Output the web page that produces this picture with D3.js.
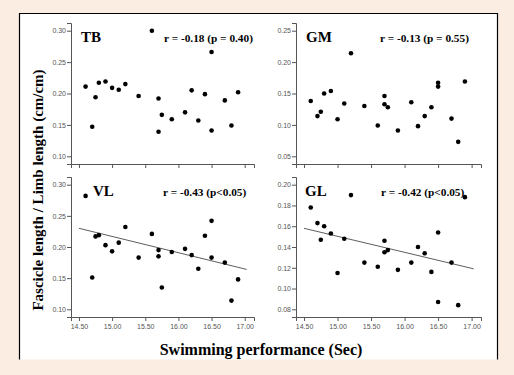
<!DOCTYPE html>
<html>
<head>
<meta charset="utf-8">
<script src="https://cdn.jsdelivr.net/npm/d3@7"></script>
<style>
  html, body { margin: 0; padding: 0; background: #fcede3; }
  svg { display: block; }
  .tick text { font-family: "Liberation Sans", Arial, sans-serif; font-size: 7px; fill: #555; }
  .ttl { font-family: "Liberation Serif", "Times New Roman", serif; font-weight: bold; fill: #000; }
</style>
</head>
<body>
<div id="chart"></div>
<script>
// swimming time of each subject (sec), shared by all four panels
const SWIM = [14.6, 14.7, 14.75, 14.8, 14.9, 15.0, 15.1, 15.2, 15.4, 15.6, 15.7, 15.7,
              15.75, 15.9, 16.1, 16.2, 16.3, 16.4, 16.5, 16.5, 16.7, 16.8, 16.9];

// fascicle length / limb length, one value per swimmer, same order as SWIM
const TB = [0.211, 0.147, 0.194, 0.217, 0.219, 0.209, 0.206, 0.215, 0.196, 0.300, 0.192, 0.139,
            0.166, 0.159, 0.170, 0.205, 0.157, 0.199, 0.266, 0.141, 0.189, 0.149, 0.202];
const GM = [0.138, 0.114, 0.121, 0.150, 0.154, 0.109, 0.134, 0.214, 0.130, 0.099, 0.146, 0.133,
            0.128, 0.091, 0.136, 0.098, 0.114, 0.128, 0.167, 0.161, 0.110, 0.073, 0.169];
const VL = [0.282, 0.151, 0.217, 0.219, 0.203, 0.193, 0.207, 0.232, 0.183, 0.221, 0.195, 0.185,
            0.135, 0.192, 0.197, 0.187, 0.165, 0.218, 0.242, 0.183, 0.175, 0.114, 0.148];
const GL = [0.178, 0.163, 0.147, 0.160, 0.153, 0.115, 0.148, 0.190, 0.125, 0.121, 0.146, 0.135,
            0.137, 0.118, 0.125, 0.140, 0.134, 0.116, 0.154, 0.087, 0.125, 0.084, 0.188];

const PANEL_NAMES = ["TB", "GM", "VL", "GL"];
const PANEL_STATS = ["r = -0.18 (p = 0.40)", "r = -0.13 (p = 0.55)",
                     "r = -0.43 (p<0.05)", "r = -0.42 (p<0.05)"];
const X_TICKS = [14.5, 15.0, 15.5, 16.0, 16.5, 17.0];
const Y_TICKS = [
  [0.10, 0.15, 0.20, 0.25, 0.30],
  [0.05, 0.10, 0.15, 0.20, 0.25],
  [0.10, 0.15, 0.20, 0.25, 0.30],
  [0.08, 0.10, 0.12, 0.14, 0.16, 0.18, 0.20]
];
// fit lines as drawn in the figure: [x start, x end] and [y start, y end]; null = none
const FIT_X = [14.5, 17.03];
const FIT_Y = [null, null, [0.230, 0.164], [0.158, 0.119]];
const SERIES = [TB, GM, VL, GL];

const W = 514, H = 375;
const svg = d3.select("#chart").append("svg").attr("width", W).attr("height", H);

// white figure box: border on top, left and right only
svg.append("rect").attr("x", 19.5).attr("y", 13.5).attr("width", 478).attr("height", 346)
  .attr("fill", "#fff");
svg.append("path").attr("d", "M19.5,359.5V13.5H497.5V359.5")
  .attr("fill", "none").attr("stroke", "#000").attr("stroke-width", 1.2);

// panel boxes (axis area) in pixels
const COLS = [[71, 254], [296, 481]];
const ROWS = [[23, 164], [177, 317]];
// where the panel name and the r/p text start, offset from the panel's left edge
const NAME_DX = [10, 10, 22, 9];
const STAT_DX = [93, 84, 92, 85];

SERIES.forEach((ys, i) => {
  const [x0, x1] = COLS[i % 2];
  const [y0, y1] = ROWS[Math.floor(i / 2)];
  const ticks = Y_TICKS[i];
  const lo = ticks[0], hi = ticks[ticks.length - 1];
  const pad = 7.7 / (y1 - y0 - 15.4) * (hi - lo);

  const x = d3.scaleLinear().domain([14.38, 17.14]).range([x0, x1]);
  const y = d3.scaleLinear().domain([lo - pad, hi + pad]).range([y1, y0]);
  const g = svg.append("g");

  const yAxis = g.append("g").attr("transform", `translate(${x0},0)`)
    .call(d3.axisLeft(y).tickValues(ticks).tickSize(4).tickPadding(1)
      .tickFormat(d3.format(".2f")));
  const xAxis = g.append("g").attr("transform", `translate(0,${y1})`)
    .call(d3.axisBottom(x).tickValues(X_TICKS).tickSize(4).tickPadding(3)
      .tickFormat(i >= 2 ? d3.format(".2f") : ""));
  [yAxis, xAxis].forEach(a => {
    a.select(".domain").attr("stroke", "#555");
    a.selectAll(".tick line").attr("stroke", "#555");
  });

  if (FIT_Y[i]) {
    g.append("line")
      .attr("x1", x(FIT_X[0])).attr("y1", y(FIT_Y[i][0]))
      .attr("x2", x(FIT_X[1])).attr("y2", y(FIT_Y[i][1]))
      .attr("stroke", "#333").attr("stroke-width", 0.8);
  }

  g.append("g").selectAll("circle").data(ys).join("circle")
    .attr("cx", (d, k) => x(SWIM[k])).attr("cy", d => y(d))
    .attr("r", 2.3).attr("fill", "#000");

  g.append("text").attr("class", "ttl").attr("x", x0 + NAME_DX[i]).attr("y", y0 + 19)
    .attr("font-size", 15).text(PANEL_NAMES[i]);
  g.append("text").attr("class", "ttl").attr("x", x0 + STAT_DX[i]).attr("y", y0 + 19)
    .attr("font-size", 11.3).text(PANEL_STATS[i]);
});

svg.append("text").attr("class", "ttl")
  .attr("transform", "translate(43,190) rotate(-90)")
  .attr("text-anchor", "middle").attr("font-size", 15)
  .text("Fascicle length / Limb length (cm/cm)");

svg.append("text").attr("class", "ttl")
  .attr("x", 261).attr("y", 355).attr("text-anchor", "middle").attr("font-size", 16)
  .text("Swimming performance (Sec)");
</script>
</body>
</html>
